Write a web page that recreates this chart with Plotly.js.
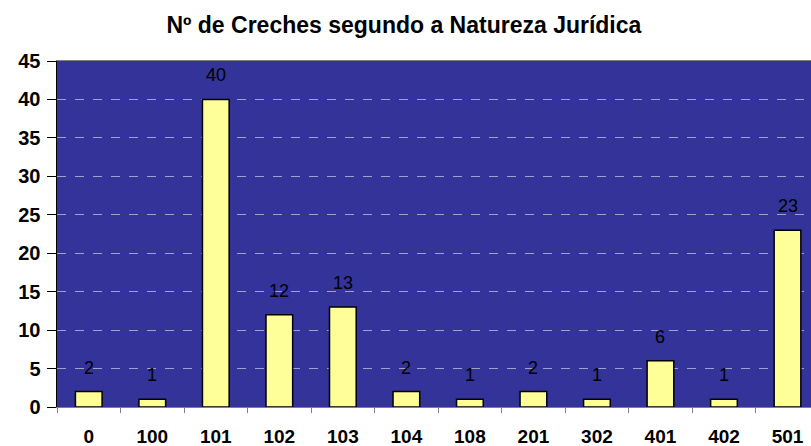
<!DOCTYPE html>
<html>
<head>
<meta charset="utf-8">
<script src="https://cdn.plot.ly/plotly-3.0.1.min.js"></script>
<style>html,body{margin:0;padding:0;background:#fff;}#chart{width:811px;height:446px;}</style>
</head>
<body>
<div id="chart"></div>
<script>
const categories = ["0","100","101","102","103","104","108","201","302","401","402","501"];
const values = [2,1,40,12,13,2,1,2,1,6,1,23];
const titleText = "Nº de Creches segundo a Natureza Jurídica";

const font = "Arial, 'Liberation Sans', sans-serif";

const trace = {
  type: "bar",
  x: categories,
  y: values,
  marker: {color: "#FFFF99", line: {color: "#000000", width: 1.5}},
  hoverinfo: "x+y"
};

const annotations = categories.map((c, i) => ({
  x: i, y: values[i], xref: "x", yref: "y",
  text: String(values[i]), showarrow: false,
  yanchor: "bottom", yshift: 12,
  font: {family: font, size: 18, color: "#000000"}
}));

const layout = {
  width: 811, height: 446,
  margin: {l: 57, r: 0, t: 61, b: 39},
  paper_bgcolor: "#ffffff",
  plot_bgcolor: "#333399",
  bargap: 0.58,
  showlegend: false,
  title: {text: "<b>" + titleText + "</b>", x: 0.498, xanchor: "center", y: 0.943, yanchor: "middle",
          font: {family: font, size: 23, color: "#000000"}},
  xaxis: {
    type: "category",
    range: [-0.5, 11.37],
    tickson: "boundaries",
    ticks: "outside", ticklen: 5, tickcolor: "#808080", tickwidth: 1,
    showline: true, linecolor: "#808080", linewidth: 1, mirror: true,
    showgrid: false,
    tickfont: {family: font, size: 19, color: "#000000", weight: "bold"},
    ticklabelstandoff: 12
  },
  yaxis: {
    range: [0, 45], dtick: 5, tick0: 0,
    ticks: "outside", ticklen: 9, tickcolor: "#000000", tickwidth: 1,
    showline: true, linecolor: "#000000", linewidth: 1.5,
    showgrid: true, gridcolor: "#A0A0C8", griddash: "dash", gridwidth: 1,
    zeroline: false,
    tickfont: {family: font, size: 20, color: "#000000", weight: "bold"},
    ticklabelstandoff: 2
  },
  annotations: annotations
};

Plotly.newPlot("chart", [trace], layout, {staticPlot: true, displayModeBar: false});
</script>
</body>
</html>
